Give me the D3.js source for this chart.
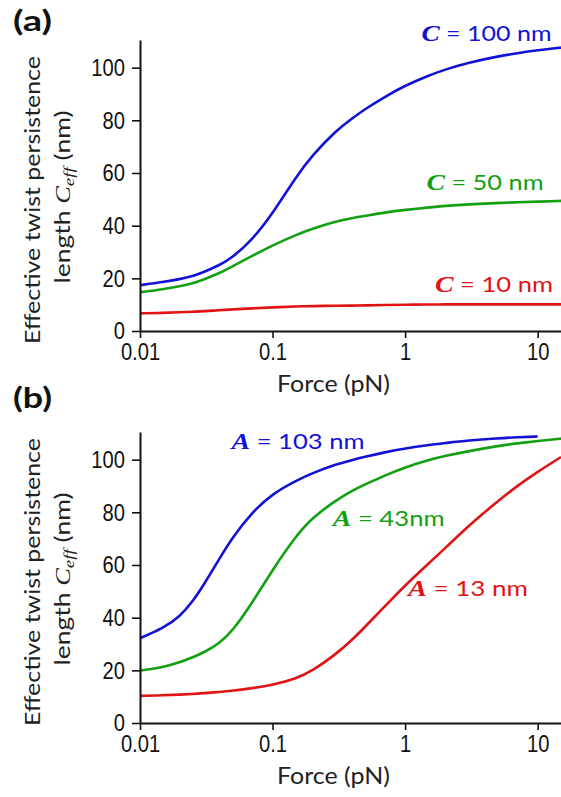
<!DOCTYPE html>
<html>
<head>
<meta charset="utf-8">
<script src="https://cdnjs.cloudflare.com/ajax/libs/d3/7.8.5/d3.min.js"></script>
<style>
  body { margin: 0; background: #fff; }
  svg { display: block; }
</style>
</head>
<body>
<div id="chart"></div>
<script>
// force grid (pN), shared by every curve
var forces = [0.01, 0.015, 0.02, 0.025, 0.03, 0.04, 0.05, 0.07, 0.1, 0.15, 0.2, 0.3, 0.4, 0.5, 0.7, 1, 1.5, 2, 3, 5, 7, 10, 15];

// (a) effective twist persistence length for C = 100, 50, 10 nm
var ceffC100 = [17.4, 18.6, 19.7, 20.8, 22.3, 25.0, 28.0, 34.5, 44.5, 58.5, 66.8, 76.0, 80.8, 84.3, 88.9, 93.2, 97.0, 99.3, 101.9, 104.3, 105.5, 106.6, 107.6];
var ceffC50  = [14.7, 15.9, 17.0, 18.1, 19.5, 22.0, 24.6, 28.5, 32.5, 36.5, 38.8, 41.6, 42.9, 43.7, 45.0, 46.0, 46.9, 47.5, 48.1, 48.6, 48.9, 49.1, 49.4];
var ceffC10  = [6.7, 6.9, 7.1, 7.3, 7.5, 7.9, 8.2, 8.6, 9.0, 9.3, 9.45, 9.6, 9.65, 9.7, 9.85, 10.0, 10.05, 10.1, 10.1, 10.1, 10.1, 10.1, 10.1];

// (b) effective twist persistence length for A = 103, 43, 13 nm (A = 103 stops at 10 pN)
var ceffA103 = [32.2, 36.0, 40.4, 46.2, 52.1, 62.7, 70.6, 80.0, 87.1, 92.0, 94.9, 98.2, 99.9, 101.1, 102.8, 104.3, 105.6, 106.3, 107.3, 108.1, 108.5, 108.8, null];
var ceffA43  = [19.9, 21.2, 23.0, 25.0, 26.6, 30.3, 35.0, 45.5, 58.2, 71.0, 78.0, 84.5, 88.3, 90.6, 94.0, 97.1, 99.9, 101.4, 103.2, 105.2, 106.2, 107.1, 108.0];
var ceffA13  = [10.3, 10.5, 10.8, 11.0, 11.3, 11.8, 12.3, 13.2, 14.4, 16.8, 19.8, 26.1, 31.6, 36.6, 44.2, 52.3, 60.5, 66.3, 74.9, 84.2, 90.0, 95.4, 101.0];

var xTicks = [0.01, 0.1, 1, 10];
var xTickLabels = ["0.01", "0.1", "1", "10"];
var yTicks = [0, 20, 40, 60, 80, 100];

var panelNames = ["(a)", "(b)"];
var symbolsA = ["C", "C", "C"];
var valueTextsA = [" = 100 nm", " = 50 nm", " = 10 nm"];
var symbolsB = ["A", "A", "A"];
var valueTextsB = [" = 103 nm", " = 43nm", " = 13 nm"];

var colors = ["#1212d6", "#12a012", "#e01414"];

(function(){

    var width = 561, height = 797;

    var svg = d3.select("#chart").append("svg")
        .attr("width", width)
        .attr("height", height)
        .style("background", "#fff");

    var sansFont = "Lato, 'Open Sans', sans-serif";
    var tickFont = "'Liberation Sans', Arial, sans-serif";
    var mathFont = "'Liberation Serif', 'DejaVu Serif', serif";

    // squeeze a text horizontally to a given width
    function fitWidth(sel, w) {
        sel.attr("textLength", w).attr("lengthAdjust", "spacingAndGlyphs");
    }

    function drawPanel(p) {
        var x = d3.scaleLog().domain([0.01, 15]).range([140, 561]);
        var y = d3.scaleLinear().domain([0, 110.5]).range([p.bottom, p.bottom - 291]);

        var g = svg.append("g");

        // curves (b-spline through the read-off points keeps them smooth)
        var line = d3.line()
            .defined(function(d) { return d.v != null; })
            .x(function(d) { return x(d.f); })
            .y(function(d) { return y(d.v); })
            .curve(d3.curveBasis);

        p.series.forEach(function(vals, i) {
            var pts = forces.map(function(f, j) { return { f: f, v: vals[j] }; });
            g.append("path")
                .datum(pts)
                .attr("d", line)
                .style("fill", "none")
                .style("stroke", colors[i])
                .style("stroke-width", 2.6)
                .style("stroke-linejoin", "round");
        });

        // axes
        var yAxis = g.append("g")
            .attr("transform", "translate(140,0)")
            .call(d3.axisLeft(y).tickValues(yTicks).tickSize(8).tickSizeOuter(0).tickPadding(7));

        var xAxis = g.append("g")
            .attr("transform", "translate(0," + p.bottom + ")")
            .call(d3.axisBottom(x).tickValues(xTicks)
                .tickFormat(function(d, i) { return xTickLabels[i]; })
                .tickSize(7).tickSizeOuter(0).tickPadding(5));

        [yAxis, xAxis].forEach(function(ax) {
            ax.select(".domain").style("stroke", "#111").style("stroke-width", 2);
            ax.selectAll(".tick line").style("stroke", "#111").style("stroke-width", 1.6);
            ax.selectAll(".tick text")
                .style("font-family", tickFont)
                .style("font-size", "24px")
                .style("fill", "#111")
                .each(function() {
                    fitWidth(d3.select(this), this.getComputedTextLength() * 0.84);
                });
        });

        // x axis title
        var xt = g.append("text")
            .attr("x", 333.5)
            .attr("y", p.bottom + 61)
            .attr("text-anchor", "middle")
            .style("font-family", sansFont)
            .style("font-size", "23px")
            .style("fill", "#222")
            .text("Force (pN)");
        fitWidth(xt, 113);

        // y axis title, two lines
        var yt1 = g.append("text")
            .attr("transform", "translate(40," + p.labelMid + ") rotate(-90)")
            .attr("text-anchor", "middle")
            .style("font-family", sansFont)
            .style("font-size", "21px")
            .style("fill", "#222")
            .text("Effective twist persistence");
        fitWidth(yt1, 288);

        var yt2 = g.append("text")
            .attr("transform", "translate(70," + (p.labelMid - 3) + ") rotate(-90)")
            .attr("text-anchor", "middle")
            .style("font-family", sansFont)
            .style("font-size", "21px")
            .style("fill", "#222");
        yt2.append("tspan").text("length ");
        yt2.append("tspan").style("font-family", mathFont).style("font-style", "italic").text("C");
        yt2.append("tspan").style("font-family", mathFont).style("font-style", "italic")
            .style("font-size", "15px").attr("dy", 4).text("eff");
        yt2.append("tspan").attr("dy", -4).text(" (nm)");
        fitWidth(yt2, 173);

        // panel letter
        var pl = svg.append("text")
            .attr("x", 13)
            .attr("y", p.letterY)
            .style("font-family", sansFont)
            .style("font-weight", 700)
            .style("font-size", "29px")
            .style("fill", "#111")
            .text(p.name);
        fitWidth(pl, 39);

        // curve labels
        p.labels.forEach(function(lb, i) {
            var t = g.append("text")
                .attr("x", x(lb.f))
                .attr("y", y(lb.v))
                .style("font-family", sansFont)
                .style("font-size", "22px")
                .style("fill", colors[i]);
            t.append("tspan")
                .style("font-family", mathFont)
                .style("font-style", "italic")
                .style("font-weight", 700)
                .style("font-size", "24px")
                .text(p.symbols[i]);
            t.append("tspan").attr("xml:space", "preserve").text(p.texts[i]);
            fitWidth(t, lb.w);
        });
    }

    drawPanel({
        name: panelNames[0], letterY: 31, bottom: 331, labelMid: 200,
        series: [ceffC100, ceffC50, ceffC10],
        symbols: symbolsA, texts: valueTextsA,
        labels: [{ f: 1.33, v: 110.1, w: 130 }, { f: 1.45, v: 53.7, w: 117 }, { f: 1.68, v: 14.8, w: 118 }]
    });

    drawPanel({
        name: panelNames[1], letterY: 408, bottom: 723, labelMid: 582,
        series: [ceffA103, ceffA43, ceffA13],
        symbols: symbolsB, texts: valueTextsB,
        labels: [{ f: 0.049, v: 104.1, w: 133 }, { f: 0.284, v: 74.8, w: 112 }, { f: 1.05, v: 48.2, w: 120 }]
    });

})();
</script>
</body>
</html>
